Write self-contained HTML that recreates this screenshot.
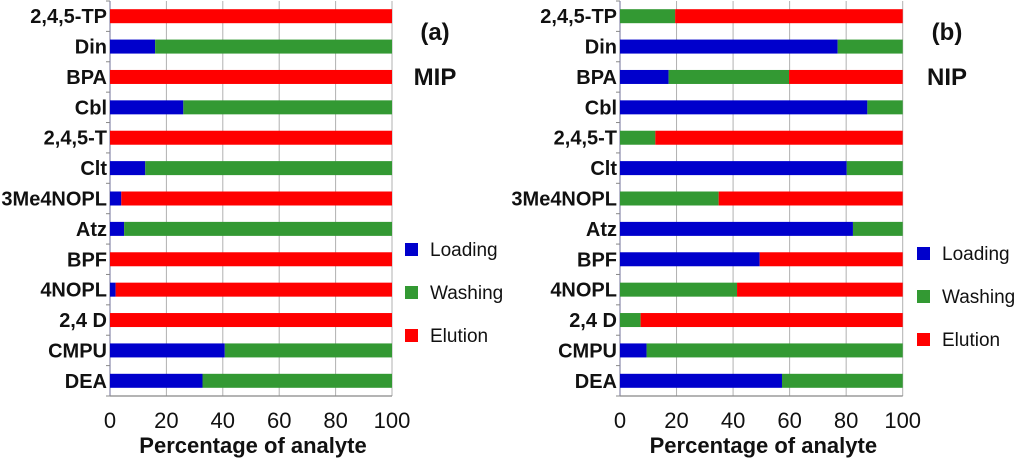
<!DOCTYPE html>
<html><head><meta charset="utf-8"><style>
body{margin:0;background:#fff;}
svg{display:block;font-family:"Liberation Sans",Arial,sans-serif;}
</style></head><body>
<svg id="chart" width="1024" height="459"></svg>
<script>
const categories=["2,4,5-TP","Din","BPA","Cbl","2,4,5-T","Clt","3Me4NOPL","Atz","BPF","4NOPL","2,4 D","CMPU","DEA"];
const mipLoading=[0,16,0,26,0,12.5,4,5,0,2,0,40.7,32.8];
const mipWashing=[0,84,0,74,0,87.5,0,95,0,0,0,59.3,67.2];
const mipElution=[100,0,100,0,100,0,96,0,100,98,100,0,0];
const nipLoading=[0,77,17.2,87.5,0,80.2,0,82.4,49.4,0,0,9.4,57.3];
const nipWashing=[19.5,23,42.6,12.5,12.5,19.8,34.9,17.6,0,41.4,7.3,90.6,42.7];
const nipElution=[80.5,0,40.2,0,87.5,0,65.1,0,50.6,58.6,92.7,0,0];
const xTicks=[0,20,40,60,80,100];
const seriesNames=["Loading","Washing","Elution"];
const colors=["#0000cc","#339933","#ff0000"];
const NS="http://www.w3.org/2000/svg";
const svg=document.getElementById('chart');
function mk(tag,attrs,parent,text){const e=document.createElementNS(NS,tag);for(const k in attrs)e.setAttribute(k,attrs[k]);if(text!==undefined)e.textContent=text;(parent||svg).appendChild(e);return e;}
function panel(id,x0,x1,series,letter,label,legX,legY){
  const g=mk('g',{});
  
  
  const top=1,bottom=396,band=(bottom-top)/categories.length;
  const xs=v=>x0+(x1-x0)*v/100;
  const yc=i=>top+band*(i+0.5);
  xTicks.forEach(t=>{
    const l=mk('line',{x1:xs(t),x2:xs(t),y1:top,y2:bottom,stroke:'#b0b0b0','stroke-width':1},g);
    
    
    const tx=mk('text',{x:xs(t),y:428,'font-size':22,'text-anchor':'middle',fill:'#111'},g,String(t));
    
    
  });
  mk('line',{x1:x0,x2:x0,y1:top,y2:bottom,stroke:'#8888aa','stroke-width':1.2},g);
  mk('line',{x1:x0,x2:x1,y1:bottom,y2:bottom,stroke:'#888','stroke-width':1.2},g);
  for(let i=0;i<=categories.length;i++){mk('line',{x1:x0-4,x2:x0,y1:top+band*i,y2:top+band*i,stroke:'#888'},g);}
  categories.forEach((c,i)=>{
    let acc=0;
    series.forEach((s,k)=>{
      const v=s[i];
      if(v>0){
        const r=mk('rect',{x:xs(acc),y:yc(i)-7,width:xs(acc+v)-xs(acc),height:14,fill:colors[k]},g);
        
        
      }
      acc+=v;
    });
    const t=mk('text',{x:x0-3,y:yc(i)+7,'font-size':20,'font-weight':'bold','text-anchor':'end',fill:'#111'},g,c);
    
    
  });
  const xt=mk('text',{x:(x0+x1)/2+2,y:453,'font-size':22,'font-weight':'bold','text-anchor':'middle',fill:'#111'},g,'Percentage of analyte');
  
  
  const pl=mk('text',{x:legX+30,y:40,'font-size':24,'font-weight':'bold','text-anchor':'middle',fill:'#111'},g,letter);
  
  
  const pn=mk('text',{x:legX+30,y:85,'font-size':24,'font-weight':'bold','text-anchor':'middle',fill:'#111'},g,label);
  
  
  seriesNames.forEach((n,k)=>{
    const y=legY+k*43;
    const r=mk('rect',{x:legX,y:y,width:13,height:13,fill:colors[k]},g);
    
    
    const t=mk('text',{x:legX+25,y:y+13,'font-size':19,fill:'#111'},g,n);
    
    
  });
}
panel('mip',110,392,[mipLoading,mipWashing,mipElution],'(a)','MIP',405,243);
panel('nip',620,902.7,[nipLoading,nipWashing,nipElution],'(b)','NIP',917,247);
</script>
</body></html>
